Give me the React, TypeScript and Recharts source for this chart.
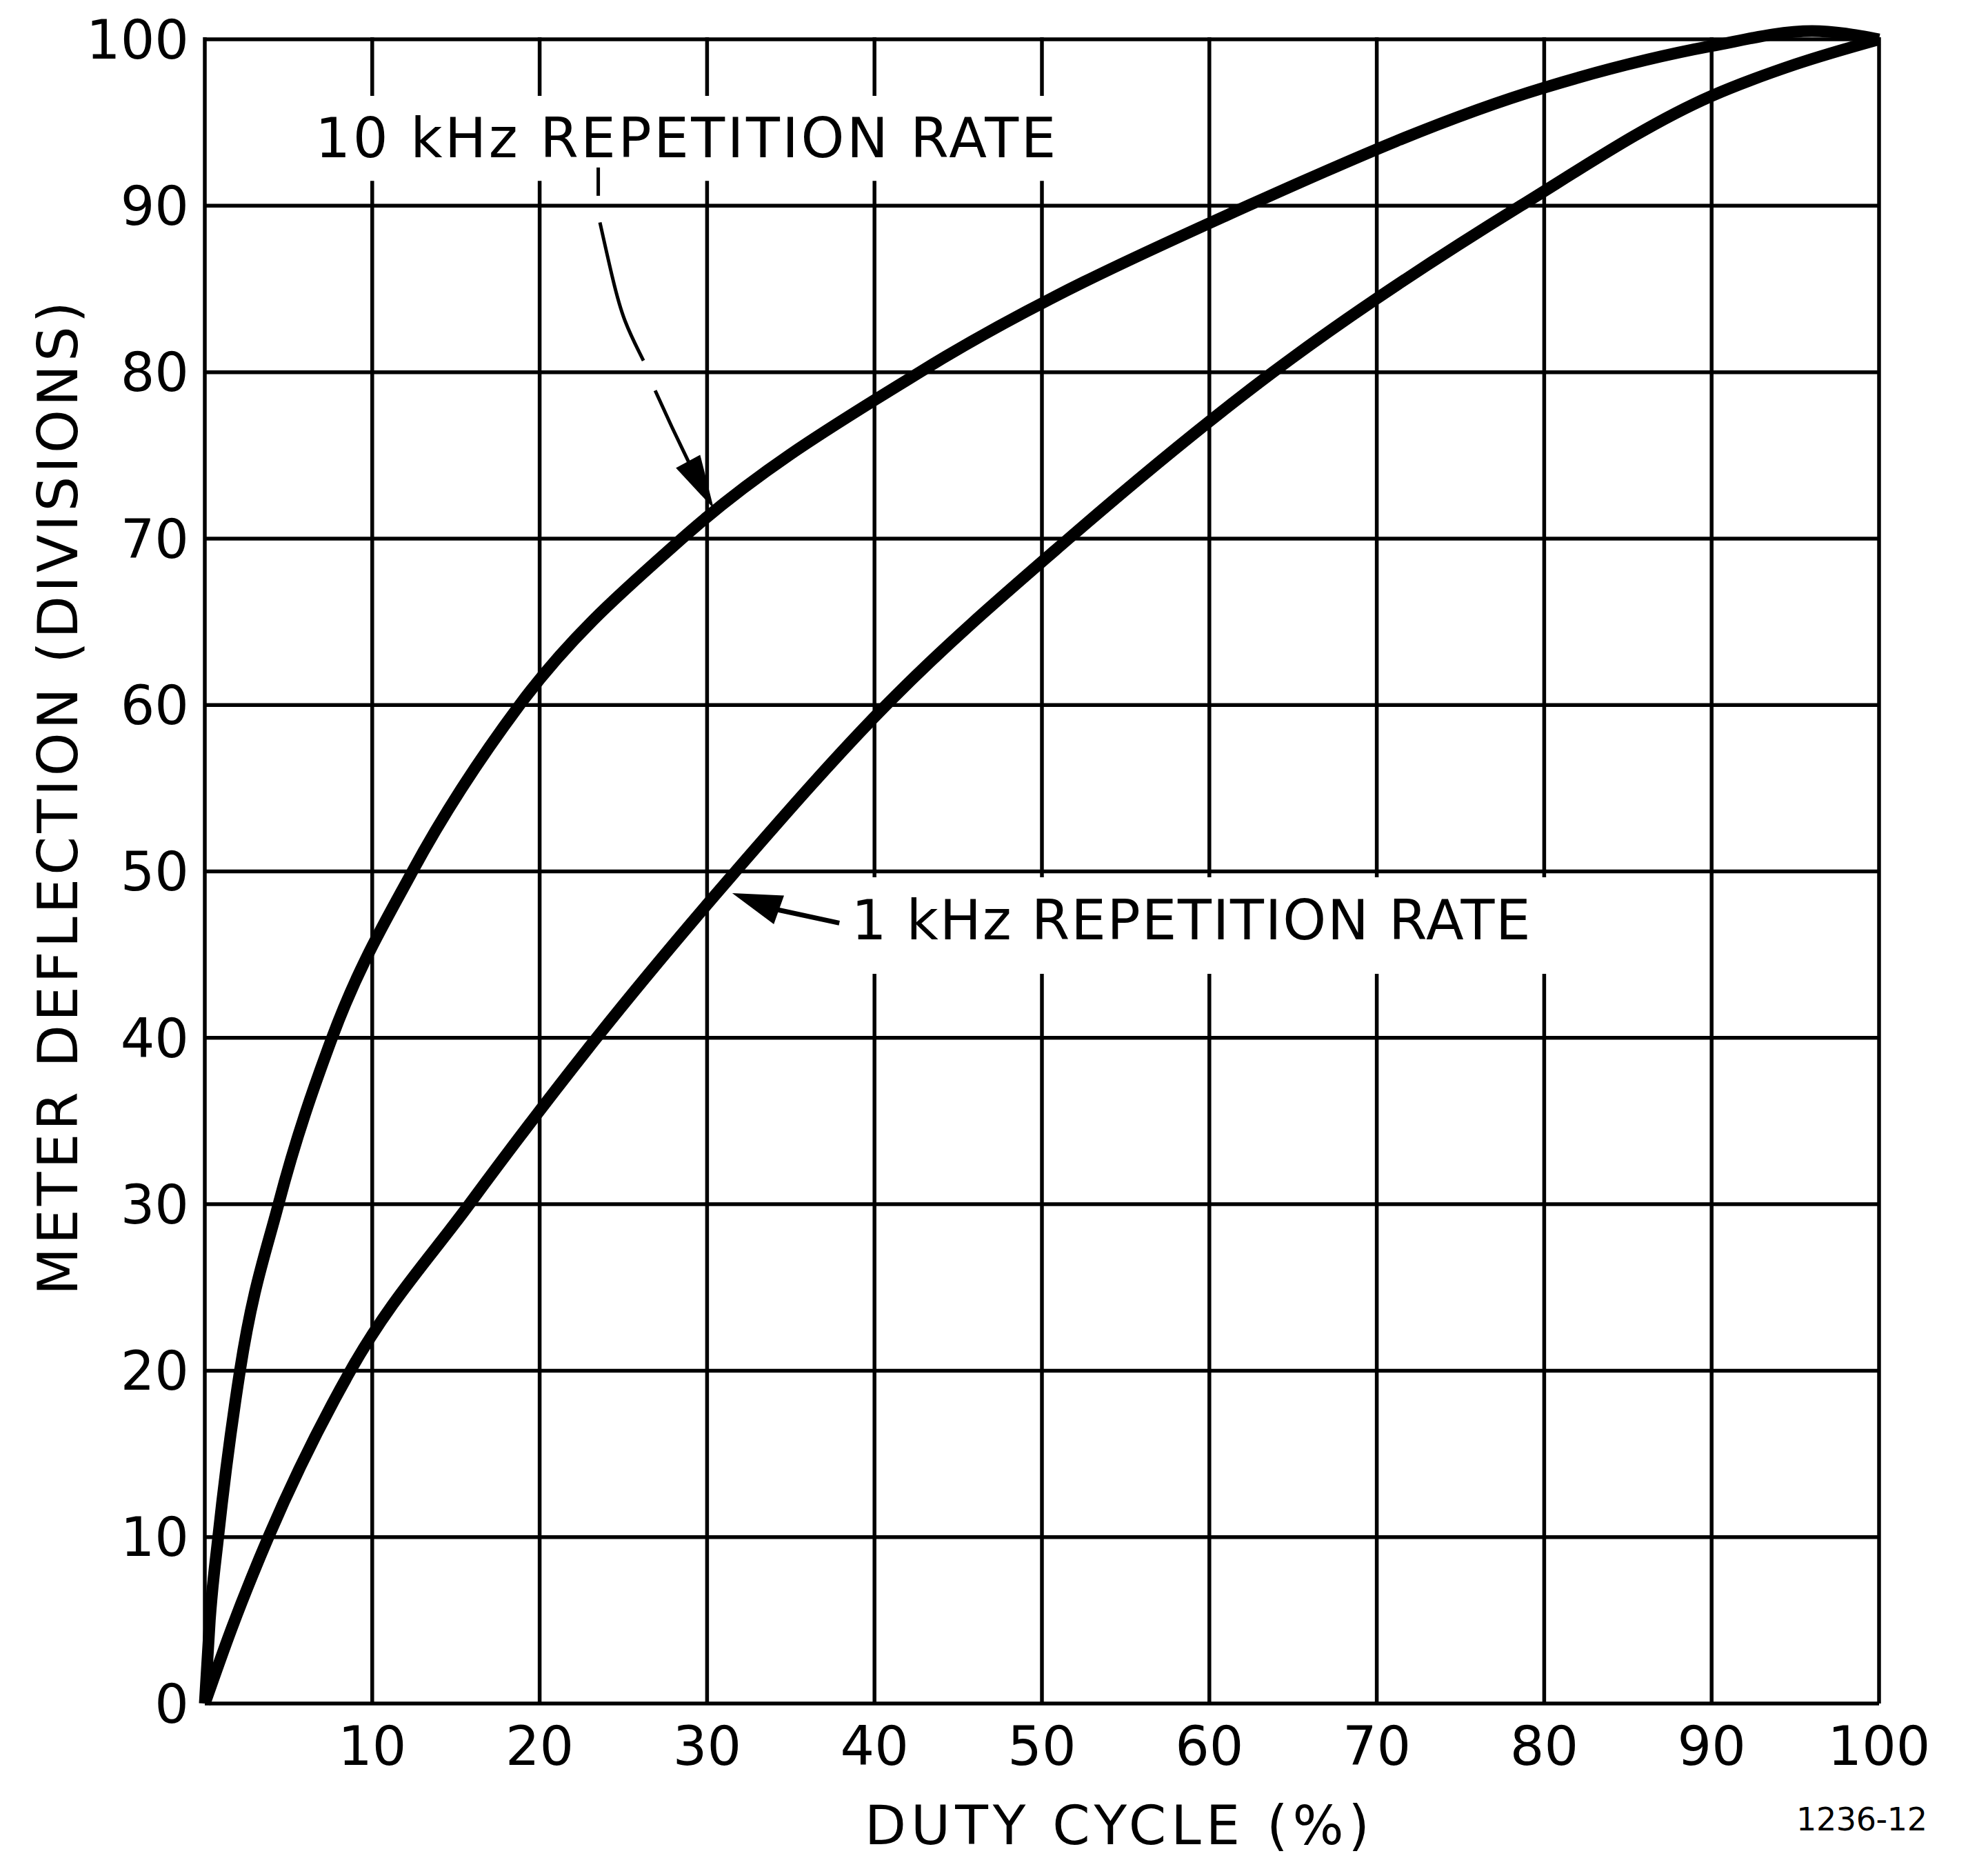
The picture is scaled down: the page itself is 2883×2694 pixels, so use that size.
import { CartesianGrid, Line, LineChart, ReferenceArea, ReferenceDot, XAxis, YAxis } from "recharts";

const FONT = "DejaVu Sans";

const X_TICKS = [0, 10, 20, 30, 40, 50, 60, 70, 80, 90, 100];
const Y_TICKS = [0, 10, 20, 30, 40, 50, 60, 70, 80, 90, 100];

// 10 kHz repetition rate (read where the curve crosses the grid)
const DUTY_10K = [0, 0.3, 0.8, 2.1, 4.4, 7.6, 12.4, 18.8, 28.5, 42.7, 62.3, 80, 90, 96, 100];
const DEFL_10K = [0, 5, 10, 20, 30, 40, 50, 60, 70, 80, 90, 97.1, 99.6, 100.5, 100];

// 1 kHz repetition rate
const DUTY_1K = [0, 1.6, 3.8, 8.7, 15.8, 23.4, 31.7, 40.7, 51.6, 63.8, 78.6, 90, 95, 100];
const DEFL_1K = [0, 4.5, 10, 20, 30, 40, 50, 60, 70, 80, 90, 96.6, 98.5, 100];

// leader from the 10 kHz label, broken where it crosses grid lines
const LEAD_A_X = [23.5, 23.5];
const LEAD_A_Y = [92.3, 90.6];
const LEAD_B_X = [23.6, 24.4, 25.0, 26.2];
const LEAD_B_Y = [89.0, 85.4, 83.1, 80.7];
const LEAD_C_X = [26.9, 27.9, 28.9];
const LEAD_C_Y = [78.9, 76.7, 74.6];
// leader from the 1 kHz label
const LEAD_1K_X = [34.2, 37.9];
const LEAD_1K_Y = [47.7, 46.9];

const zip = (xs: number[], ys: number[]) => xs.map((x, i) => ({ x, y: ys[i] }));

const curve10k = zip(DUTY_10K, DEFL_10K);
const curve1k = zip(DUTY_1K, DEFL_1K);

function ArrowHead(props: any) {
  const { cx, cy, angle, len, half } = props;
  if (cx == null || cy == null) return null;
  return (
    <polygon
      points={`0,0 ${-len},${-half} ${-len},${half}`}
      transform={`translate(${cx},${cy}) rotate(${angle})`}
      fill="#000"
    />
  );
}

function BoxText({ viewBox, text, dx, dy, length }: any) {
  if (!viewBox) return null;
  return (
    <text
      x={viewBox.x + dx}
      y={viewBox.y + dy}
      fontFamily={FONT}
      fontSize={80}
      fill="#000"
      textLength={length}
      lengthAdjust="spacing"
    >
      {text}
    </text>
  );
}

function YTitle({ viewBox }: any) {
  if (!viewBox) return null;
  const cx = viewBox.x + 15;
  const cy = viewBox.y + viewBox.height / 2 - 100;
  return (
    <text
      transform={`translate(${cx},${cy}) rotate(-90)`}
      textAnchor="middle"
      fontFamily={FONT}
      fontSize={80}
      fill="#000"
      textLength={1441}
      lengthAdjust="spacing"
    >
      METER DEFLECTION (DIVISIONS)
    </text>
  );
}

function XTitle({ viewBox }: any) {
  if (!viewBox) return null;
  return (
    <g>
      <text
        x={viewBox.x + viewBox.width / 2 + 109}
        y={viewBox.y + 204}
        textAnchor="middle"
        fontFamily={FONT}
        fontSize={78}
        fill="#000"
        textLength={732}
        lengthAdjust="spacing"
      >
        DUTY CYCLE (%)
      </text>
      <text
        x={viewBox.x + viewBox.width - 25}
        y={viewBox.y + 184}
        textAnchor="middle"
        fontFamily={FONT}
        fontSize={46}
        fill="#000"
        textLength={190}
        lengthAdjust="spacing"
      >
        1236-12
      </text>
    </g>
  );
}

const tickStyle = { fill: "#000", fontSize: 78, fontFamily: FONT };

export default function App() {
  return (
    <div style={{ margin: -8 }}>
      <LineChart width={2883} height={2694} margin={{ top: 45, right: 158, bottom: 114, left: 97 }}>
        <CartesianGrid stroke="#000" strokeWidth={5.5} syncWithTicks />
        <XAxis
          type="number"
          dataKey="x"
          domain={[0, 100]}
          ticks={X_TICKS}
          interval={0}
          tickFormatter={(v: number) => (v === 0 ? "" : String(v))}
          tick={tickStyle}
          tickLine={false}
          tickSize={0}
          tickMargin={34}
          axisLine={false}
          height={110}
          label={XTitle}
        />
        <YAxis
          type="number"
          dataKey="y"
          domain={[0, 100]}
          ticks={Y_TICKS}
          interval={0}
          tick={tickStyle}
          tickLine={false}
          tickSize={0}
          tickMargin={23}
          axisLine={false}
          width={200}
          label={YTitle}
        />

        {/* hide grid stubs above the top frame (curve rises a hair past 100) */}
        <ReferenceArea x1={-0.3} x2={100.3} y1={100.13} y2={100.5} fill="#fff" fillOpacity={1} stroke="none" ifOverflow="visible" zIndex={50} />

        <ReferenceArea
          x1={5.9}
          x2={51.5}
          y1={91.5}
          y2={96.6}
          fill="#fff"
          fillOpacity={1}
          stroke="none"
          zIndex={50}
          label={(p: any) => <BoxText {...p} text="10 kHz REPETITION RATE" dx={17} dy={89} length={1074} />}
        />
        <ReferenceArea
          x1={38.0}
          x2={80.9}
          y1={43.85}
          y2={49.65}
          fill="#fff"
          fillOpacity={1}
          stroke="none"
          zIndex={50}
          label={(p: any) => <BoxText {...p} text="1 kHz REPETITION RATE" dx={15} dy={90} length={985} />}
        />

        <Line data={curve10k} dataKey="y" type="monotone" stroke="#000" strokeWidth={17} dot={false} isAnimationActive={false} />
        <Line data={curve1k} dataKey="y" type="monotone" stroke="#000" strokeWidth={17} dot={false} isAnimationActive={false} />

        <Line data={zip(LEAD_A_X, LEAD_A_Y)} dataKey="y" type="linear" stroke="#000" strokeWidth={5} dot={false} isAnimationActive={false} />
        <Line data={zip(LEAD_B_X, LEAD_B_Y)} dataKey="y" type="basis" stroke="#000" strokeWidth={5} dot={false} isAnimationActive={false} />
        <Line data={zip(LEAD_C_X, LEAD_C_Y)} dataKey="y" type="linear" stroke="#000" strokeWidth={5} dot={false} isAnimationActive={false} />
        <Line data={zip(LEAD_1K_X, LEAD_1K_Y)} dataKey="y" type="linear" stroke="#000" strokeWidth={7} dot={false} isAnimationActive={false} />

        <ReferenceDot x={30.4} y={71.8} r={0} shape={(p: any) => <ArrowHead {...p} angle={61.4} len={78} half={20} />} />
        <ReferenceDot x={31.5} y={48.7} r={0} shape={(p: any) => <ArrowHead {...p} angle={199.7} len={72} half={22} />} />
      </LineChart>
    </div>
  );
}
